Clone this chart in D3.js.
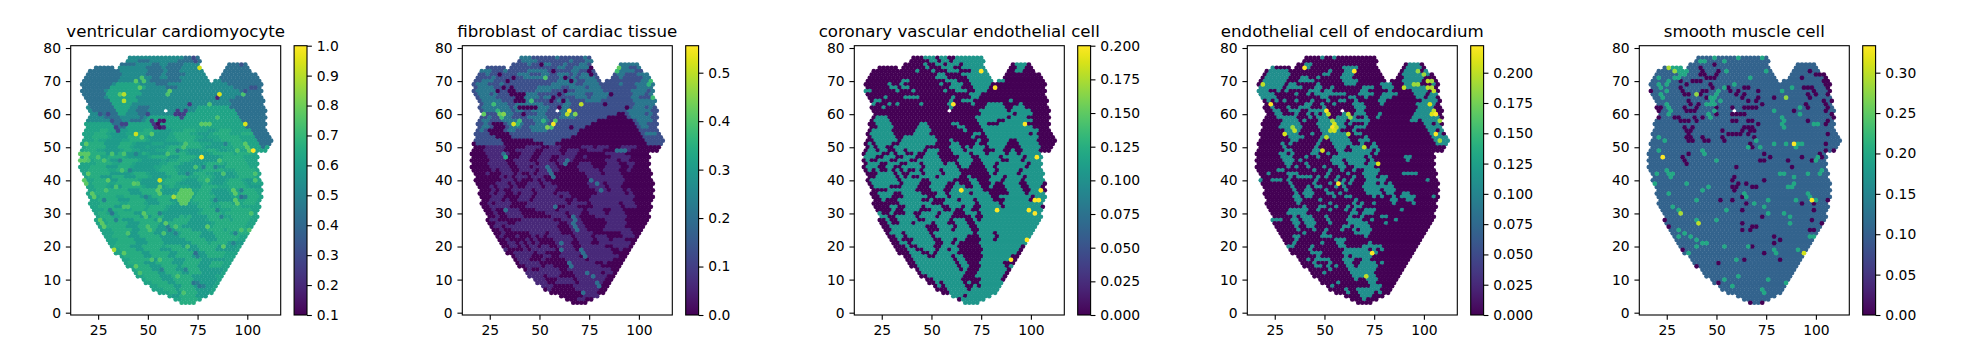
<!DOCTYPE html>
<html>
<head>
<meta charset="utf-8">
<script src="https://cdn.jsdelivr.net/npm/d3@7"></script>
<style>
html,body{margin:0;padding:0;background:#fff}
svg{display:block}
text{font-family:"DejaVu Sans",sans-serif;fill:#000}
</style>
</head>
<body>
<svg id="fig" width="1972" height="362"></svg>
<script>
// ---------- tick labels and titles ----------
const titles = ["ventricular cardiomyocyte","fibroblast of cardiac tissue","coronary vascular endothelial cell","endothelial cell of endocardium","smooth muscle cell"];
const xTicks = [25,50,75,100];
const yTicks = [0,10,20,30,40,50,60,70,80];
const cbarDomains = [[0.1,1.0],[0,0.5557],[0,0.2],[0,0.2223],[0,0.3334]];
const cbarTicks = [
  [0.1,0.2,0.3,0.4,0.5,0.6,0.7,0.8,0.9,1.0],
  [0,0.1,0.2,0.3,0.4,0.5],
  [0,0.025,0.05,0.075,0.1,0.125,0.15,0.175,0.2],
  [0,0.025,0.05,0.075,0.1,0.125,0.15,0.175,0.2],
  [0,0.05,0.1,0.15,0.2,0.25,0.3]
];
const cbarFormats = [".1f",".1f",".3f",".3f",".2f"];
const axisDomainX = [11.2,116.8];
const axisDomainY = [-0.7,80.7];

// ---------- the tissue: which spots exist, row y -> x spans ----------
const tissueRows = {77:"41-75",76:"40-76",75:"37-75 91-99",74:"24-32 36-76 90-100",73:"21-77 89-101",72:"20-78 88-104",71:"19-79 87-105",70:"18-80 84-106",69:"17-107",68:"18-106",67:"17-107",66:"18-106",65:"19-107",64:"20-108",63:"21-107",62:"20-108",61:"21-57 61-109",60:"22-108",59:"21-109",58:"20-108",57:"19-109",56:"20-108",55:"19-109",54:"18-110",53:"19-111",52:"18-112",51:"17-111",50:"18-110",49:"17-109",48:"16-104",47:"17-105",46:"16-104",45:"17-105",44:"16-104",43:"17-105",42:"18-106",41:"19-105",40:"18-106",39:"19-107",38:"20-106",37:"21-107",36:"20-106",35:"21-107",34:"22-106",33:"21-105",32:"22-106",31:"23-105",30:"24-104",29:"25-105",28:"24-104",27:"25-103",26:"26-102",25:"27-101",24:"28-100",23:"29-99",22:"30-98",21:"31-97",20:"32-96",19:"33-95",18:"34-94",17:"37-93",16:"38-92",15:"39-91",14:"40-90",13:"43-89",12:"44-88",11:"45-87",10:"48-86",9:"49-85",8:"52-84",7:"53-83",6:"56-82",5:"61-79",4:"64-76",3:"67-73"};

// ---------- ventricular cardiomyocyte ----------
const cardioBase = 0.625;
const cardioUpperRows = {77:"0-200",76:"0-200",75:"0-200",74:"0-200",73:"0-200",72:"0-200",71:"0-200",70:"0-200",69:"0-200",68:"0-200",67:"0-200",66:"0-200",65:"0-200",64:"0-200",63:"0-200",62:"0-74",61:"0-74",60:"0-64",59:"0-50",58:"0-48"};
const cardioLobeRows = {77:"68-75",76:"46-50 66-76",75:"37-44 52-56 60-68 91-99",74:"24-32 50-56 60-66 90-100",73:"21-36 50-58 60-66 89-101",72:"20-36 50-56 60-68 88-104",71:"19-36 52-56 60-66 87-105",70:"18-34 52-66 88-106",69:"17-32 54-60 90-107",68:"18-30 60-64 94-106",67:"17-28 96-107",66:"18-28 97-106",65:"19-28 94-107",64:"20-30 92-108",63:"21-31 93-107",62:"22-32 46-50 92-108",61:"23-33 44-50 94-109",60:"26-35 45-50 95-108",59:"28-36 46-48 96-109",58:"31-37 42-46 98-108",57:"33-40 99-109",56:"35-38 100-108",55:"36-36 102-109",54:"103-110",53:"104-111",52:"105-112",51:"107-111",50:"108-108"};
const cardioGreenRows = {69:"34-46",68:"32-48",67:"30-46",66:"30-46",65:"30-44",64:"32-44",63:"33-42",62:"34-41",61:"35-40",60:"36-38",58:"80-92",57:"76-88",56:"64-90"};
const cardioHighRows = {55:"26-30 48-52 68-74 86-92",54:"24-28 44-50 64-70 84-90 98-102",53:"23-29 41-47 65-73 87-95",52:"24-24 42-48 66-72 88-96",51:"21-27 37-41 69-75 93-99",50:"20-28 36-40 62-66 70-76 94-100",49:"18-24 38-42 60-66 80-84 92-92",48:"22-28 36-36 48-48 62-68 84-92 96-102",47:"21-25 31-37 53-59 67-73 89-97",46:"24-30 38-44 66-70 88-98",45:"25-31 37-41 61-65 81-87 91-99",44:"22-28 36-40 58-62 78-82 90-100",43:"21-29 35-39 57-63 79-87 95-103",42:"20-30 44-48 60-64 74-78 96-104",41:"21-25 33-37 45-49 63-69 77-81 97-103",40:"24-28 36-44 60-66 76-80 92-96",39:"23-29 35-43 59-63 79-79 91-97",38:"24-28 38-46 62-62 78-84 92-98",37:"25-31 33-39 47-53 77-81 99-103",36:"24-32 34-40 48-54 76-80 98-104",35:"27-33 39-45 53-61 75-83 101-105",34:"26-34 42-48 56-60 74-80 100-104",33:"27-35 41-47 57-61 77-81 87-91 99-103",32:"26-32 40-48 52-58 76-80 88-96",31:"29-37 43-47 51-57 79-85 93-101",30:"26-28 36-42 50-54 78-86 90-102",29:"27-31 37-45 53-57 67-67 71-71 81-87 93-101",28:"30-36 44-52 64-70 82-90 94-100",27:"31-39 47-55 61-69 85-99",26:"30-38 46-54 62-66 84-98",25:"33-41 47-53 65-71 81-87 91-99",24:"34-40 46-52 68-76 84-90 94-100",23:"33-39 47-55 67-75 85-95",22:"36-42 50-56 70-78 86-94",21:"35-43 51-57 73-79 83-89",20:"34-40 48-56 60-66 76-84",19:"37-43 49-55 63-69 77-83",18:"40-46 52-60 66-72 80-88",17:"39-47 53-59 65-71 81-87",16:"42-50 56-62 70-76",15:"41-47 55-61 69-75 83-87",14:"44-50 58-64 68-74 82-86",13:"45-51 57-63 69-75",12:"46-54 60-66 72-76",11:"49-55 63-71",10:"50-56 64-72",9:"53-59 65-71",8:"56-62 68-72",7:"59-63 67-73",6:"62-64 68-74",5:"67-73",4:"68-74",3:"67-73"};
const cardioLowRows = {55:"34-40 56-62 80-84",54:"32-38 54-60 76-80",53:"33-39 51-59 79-79",52:"30-36 52-58 76-82",51:"29-35 45-51 59-65 83-89",50:"30-34 44-48 52-58 80-86",49:"28-36 46-54 70-76 86-90",48:"30-34 40-46 52-58 72-80",47:"41-49 61-65 79-85",46:"32-36 48-56 60-60 74-84",45:"45-55 69-77",44:"30-34 44-52 66-74 84-88",43:"43-53 67-75",42:"32-40 52-58 66-72 84-92",41:"27-31 39-43 53-59 85-93",40:"30-34 48-56 70-74 84-88 100-104",39:"45-55 67-75 83-87 101-101",38:"32-36 50-58 72-76 102-106",37:"41-45 59-65 83-89",36:"42-46 58-62 84-90",35:"47-51 85-91",34:"36-40 50-54 62-64 84-92",33:"51-55 65-71",32:"34-38 62-74",31:"61-75",30:"32-32 44-48 58-74",29:"47-51 59-65 73-79",28:"38-42 54-62 72-78",27:"41-45 57-59 71-81",26:"40-44 56-60 68-80",25:"43-45 55-63 73-79",24:"42-44 54-64 78-82",23:"41-45 57-65 77-83",22:"44-48 58-68 80-84",21:"45-49 59-71 91-97",20:"42-46 68-74 86-94",19:"45-47 57-61 71-75 85-93",18:"48-50 62-64 74-78",17:"49-51 61-63 73-79",16:"52-54 64-68 78-88",15:"49-53 63-67 77-81",14:"52-56 66-66 76-80",13:"53-55 65-67 77-87",12:"56-58 68-70 78-86",11:"57-61 73-83",10:"58-62 74-84",9:"61-63 73-83",8:"64-66 74-82",7:"65-65 75-81",6:"66-66 76-80",5:"63-65 75-79"};
const cardioSpeckleHigh = [[49,29],[55,28],[50,25],[49,26],[37,32],[40,32],[42,39],[44,39],[29,37],[34,38],[36,43],[27,46],[20,46],[24,47],[32,48],[38,48],[59,48],[68,51],[74,44],[92,37],[97,25],[100,25],[79,40],[86,46],[88,42],[94,49],[69,20],[52,16],[55,16],[65,11],[68,6],[45,12],[57,24],[64,26],[40,24],[48,70],[46,71],[60,66],[81,63],[98,66],[84,59],[67,50],[103,40],[104,42],[101,30],[101,23]];
const cardioSpeckleLow = [[44,48],[36,46],[30,31],[59,26],[64,24],[74,17],[77,8],[75,9],[98,35],[96,37],[84,31],[87,29],[89,51],[77,44],[70,42],[55,30],[48,35],[40,43],[27,34],[33,28],[64,49],[84,44],[92,21],[93,24],[69,13],[57,13],[83,34]];
const cardioGreenSpots = [[67,37],[69,37],[71,37],[66,36],[68,36],[70,36],[72,36],[65,35],[67,35],[69,35],[71,35],[66,34],[68,34],[70,34],[67,33],[69,33],[55,38],[54,37],[56,36],[92,37],[93,36],[93,34],[94,33],[100,50],[101,49],[99,51],[77,57],[79,57],[81,57],[25,28],[26,27],[27,26],[17,48],[16,48],[18,47],[19,48],[17,46],[16,46],[18,51],[19,42],[18,40],[19,39],[21,36],[22,35],[36,66],[44,70],[46,68],[61,67],[52,54],[46,53],[43,39],[29,40],[47,30],[58,27],[38,18],[43,14],[79,26],[88,20]];
const cardioDeep = [[55,57,0.12],[56,56,0.14],[57,58,0.12],[58,58,0.15],[57,56,0.16],[54,56,0.2],[56,58,0.17],[58,56,0.2],[53,57,0.25],[64,60,0.25],[66,60,0.24],[65,61,0.26],[67,60,0.27],[68,61,0.28],[66,59,0.3],[52,58,0.25],[50,60,0.3],[34,56,0.28],[37,57,0.28],[39,57,0.28],[30,60,0.3],[32,58,0.32],[26,60,0.34],[35,55,0.3],[71,63,0.25],[85,65,0.2],[73,77,0.3],[74,76,0.32],[101,68,0.33],[103,68,0.33],[98,67,0.33],[97,75,0.33],[73,18,0.42],[73,9,0.45],[75,8,0.45],[97,35,0.42],[31,30,0.45],[60,25,0.47]];
const cardioBright = [[76,74,0.93],[86,66,0.95],[99,57,0.95],[103,49,1.0],[77,47,1.0],[44,54,0.93],[38,66,0.9],[38,64,0.9],[56,40,0.93],[63,35,0.88],[33,19,0.88]];

// ---------- fibroblast of cardiac tissue ----------
const fibroLowRows = {50:"23-33 43-51 55-61 71-77 80-85 91-99",49:"23-31 39-47 53-59 65-69 75-81 89-95",48:"24-34 42-46 52-60 64-68 84-92",47:"25-31 41-45 51-55 61-67 73-73 87-95",46:"26-32 38-44 50-54 60-66 84-88 92-94",45:"25-33 39-47 51-57 61-63 71-75 85-89 95-97",44:"26-34 40-44 48-58 70-76 84-90 96-96",43:"27-27 31-35 41-47 51-59 71-79 83-89 95-95",42:"24-24 32-36 40-40 46-46 50-56 74-80 84-90",41:"31-31 35-35 39-43 47-51 75-83 85-91",40:"32-36 40-40 48-48 52-52 76-82 84-92",39:"29-33 37-37 45-49 53-53 55-55 75-81 85-91",38:"26-26 30-34 38-38 44-50 54-58 76-82 86-90",37:"27-27 31-31 37-45 49-57 79-83 87-91 95-95",36:"26-26 30-32 38-38 42-46 50-56 60-64 80-92 96-96",35:"27-31 41-45 49-59 63-65 77-93 95-97",34:"26-30 34-34 40-44 48-62 68-68 76-92 94-96",33:"25-25 29-35 45-63 67-73 77-89 93-97",32:"26-34 44-58 64-68 78-90 94-98",31:"27-27 33-39 49-57 61-71 75-81 87-91",30:"28-28 34-40 54-62 66-70 76-82 86-92",29:"29-29 35-41 57-63 67-69 79-93",28:"26-28 42-56 62-70 84-92",27:"29-33 39-59 65-71 85-93",26:"28-30 34-58 66-72 84-92",25:"31-31 37-59 67-73 83-95",24:"32-32 46-52 56-60 68-76 92-96",23:"31-31 39-39 47-47 51-51 55-65 69-75 79-81 83-83 93-97",22:"34-34 44-44 48-48 58-66 70-76 80-84 88-92",21:"35-37 41-41 45-45 49-49 59-65 71-75 81-85 87-95",20:"36-38 42-42 46-48 52-54 60-66 72-82 88-94",19:"33-33 43-43 47-57 61-67 73-85 91-91",18:"38-46 50-52 62-70 74-86",17:"39-45 53-55 61-69 75-89",16:"40-44 52-52 64-72 76-86",15:"41-47 49-49 65-77 83-83",14:"44-50 54-54 56-56 66-80",13:"45-45 51-55 57-59 65-85",12:"44-50 52-60 68-70 72-80 84-86",11:"45-51 55-59 69-83",10:"48-52 60-66 70-82",9:"49-53 59-67 71-81",8:"50-56 68-80",7:"55-55 69-79",6:"72-78",5:"73-79",4:"70-72"};
const fibroMidRows = {77:"0-200",76:"0-200",75:"0-200",74:"0-200",73:"0-200",72:"0-200",71:"0-200",70:"0-200",69:"0-200",68:"0-200",67:"0-200",66:"0-200",65:"0-200",64:"0-200",63:"0-200",62:"0-200",61:"0-200",60:"20-88 94-108",59:"21-83 95-109",58:"20-78 97-108",57:"19-26 32-76 98-109",56:"20-26 33-72 100-108",55:"19-24 33-70 101-109",54:"18-24 35-68 102-110",53:"19-27 36-66 103-111",52:"18-30 47-60 65-65 104-112",51:"19-31 52-58 104-111"};
const fibroTealRows = {77:"41-45 59-59 73-73",76:"42-48 66-66 74-76",75:"45-45 52-56 63-63 70-74 91-99",74:"27-27 29-29 43-43 47-47 60-62 68-74 92-94 100-100",73:"21-25 33-33 44-54 60-60 66-70 90-98 102-102",72:"24-24 40-44 52-54 60-64 68-68 72-74 90-92 100-104",71:"24-24 27-27 43-53 61-61 67-67 71-77 91-91 103-105",70:"21-27 59-69 74-78 97-97 101-105",69:"19-23 31-31 57-67 73-79 91-91 99-107",68:"20-26 50-60 66-72 76-80 100-106",67:"19-27 49-55 69-81 97-103 107-107",66:"20-24 27-29 42-48 64-72 78-84 98-102 106-106",65:"21-27 43-49 53-55 69-73 77-83 96-100 106-106",64:"22-30 40-46 60-64 74-80 98-108",63:"23-33 39-51 63-65 99-107",62:"22-34 38-44 47-55 61-65 98-102 106-106",61:"23-35 39-41 47-53 60-64 95-103 105-105",60:"20-22 29-37 49-53 61-69 96-102 106-106",59:"25-25 31-35 45-53 60-67 97-105",58:"21-25 32-38 47-55 100-106",57:"22-24 34-42 48-54 100-104",56:"21-25 35-41 46-56 102-104",55:"21-21 34-38 47-53",54:"37-37 51-51 104-108"};
const fibroLowTeal = [[66,29],[67,28],[66,27],[68,26],[69,25],[58,32],[60,21],[61,19],[71,19],[72,18],[73,17],[64,15],[66,14],[74,12],[76,11],[78,9],[79,8],[72,6],[32,48],[53,44],[54,43],[55,42],[56,41],[62,45],[64,46],[76,40],[78,39],[80,37],[88,49],[90,49],[92,49],[32,31]];
const fibroDark = [[36,66],[38,66],[40,66],[42,66],[39,65],[41,65],[38,64],[40,64],[42,64],[35,67],[37,67],[33,70],[32,68],[35,68],[40,62],[42,62],[44,62],[46,62],[48,62],[41,60],[29,67],[57,65],[56,64],[63,67],[59,66],[76,74],[75,73],[76,72],[86,66],[94,62],[62,64],[60,62],[65,56],[63,71],[57,73],[50,75],[36,71],[30,72],[82,63],[66,70]];
const fibroGreen = [[27,63,0.38],[28,61,0.36],[30,60,0.42],[31,59,0.38],[46,64,0.38],[53,71,0.4],[90,74,0.42],[89,73,0.38],[105,69,0.36],[106,70,0.38],[107,68,0.36],[106,65,0.42],[107,65,0.38],[22,60,0.42],[38,57,0.36],[40,58,0.38],[52,58,0.36],[58,58,0.4],[55,56,0.4],[56,56,0.38],[33,47,0.33]];
const fibroBright = [[37,57,0.52],[57,57,0.55],[65,61,0.55],[64,60,0.5],[71,63,0.5],[67,60,0.45],[31,60,0.45],[54,56,0.45]];

// ---------- coronary vascular endothelial cell ----------
const coronaryTealRows = {77:"47-51 55-57 63-75",76:"50-52 56-58 62-76",75:"47-47 53-55 59-63 67-75 93-97",74:"48-48 56-60 66-76 94-96",73:"43-43 51-51 59-63 71-77 93-95",72:"54-56 66-78",71:"53-57 69-79",70:"36-38 58-62 70-80 84-86",69:"29-29 35-35 55-55 61-65 71-79",68:"29-33 36-38 60-64 72-78",67:"17-19 33-33 41-41 57-57 63-67 73-77",66:"55-55 63-63 69-75",65:"27-27 37-43 61-61 71-73",64:"22-24 27-27 41-41 51-51 59-61 66-70 90-90",63:"21-21 29-29 33-33 45-45 59-59 71-71 79-85 95-95",62:"26-26 60-60 78-86 92-96",61:"22-22 26-26 75-87 91-99",60:"76-90 94-100",59:"23-27 73-87 91-97",58:"22-28 73-83 87-101",57:"23-29 45-47 61-63 75-77 85-95",56:"24-30 44-48 64-66 76-100",55:"21-29 43-49 67-67 77-103",54:"20-30 42-48 72-74 78-98 102-102",53:"21-31 37-51 71-71 79-103",52:"22-32 36-52 60-60 74-74 80-88 94-102",51:"19-19 23-29 35-51 61-63 73-73 79-87 95-103",50:"20-20 24-26 32-46 60-64 68-68 72-76 80-86 96-104",49:"19-21 25-27 33-35 39-45 49-53 61-65 69-75 83-85 91-91 97-103",48:"18-24 30-30 34-36 42-42 48-52 62-68 72-76 80-86 90-92 96-104",47:"17-21 27-31 37-41 47-53 65-69 75-83 87-95 99-105",46:"18-18 24-28 34-38 44-54 64-70 76-84 90-94 98-104",45:"19-23 29-33 39-43 47-55 59-61 65-69 77-81 85-97 101-105",44:"18-22 28-30 36-44 48-56 58-62 66-68 78-80 84-96 100-104",43:"19-19 23-23 29-29 33-33 37-37 43-43 47-53 57-63 79-81 85-93 97-105",42:"24-30 34-34 40-44 48-54 58-64 80-80 84-92 96-106",41:"23-31 35-35 39-39 45-51 55-63 69-69 81-85 89-95 99-105",40:"20-32 36-44 50-60 70-72 80-84 88-94 98-106",39:"21-33 37-43 51-57 63-63 71-73 81-81 87-93 99-105",38:"22-28 36-42 50-56 62-66 72-74 80-80 88-94 100-104",37:"29-35 37-41 51-55 61-63 67-69 71-75 89-95 101-103",36:"24-30 36-44 54-56 60-68 72-78 90-96 100-106",35:"25-29 37-47 53-57 61-71 73-79 85-99 103-107",34:"26-26 34-44 50-50 58-62 66-70 74-80 88-98 106-106",33:"35-41 43-49 57-63 65-71 75-83 87-105",32:"30-32 38-44 48-54 60-64 68-70 76-84 88-104",31:"31-31 37-43 51-55 61-61 67-69 75-81 85-97 101-105",30:"24-24 30-30 38-40 46-52 56-60 68-72 76-104",29:"25-27 33-41 45-51 55-59 71-71 77-105",28:"28-28 34-40 42-42 48-52 54-58 62-66 72-72 76-104",27:"29-29 35-39 43-49 53-57 63-67 73-75 77-103",26:"30-36 38-46 54-60 64-68 74-76 78-82 84-102",25:"31-35 37-47 55-59 63-69 75-85 87-101",24:"30-34 38-48 52-60 62-70 74-80 84-100",23:"33-35 39-49 53-59 61-67 75-81 85-99",22:"34-34 42-50 56-60 64-66 76-80 84-96",21:"35-35 37-37 41-51 57-59 63-63 75-97",20:"38-38 44-50 56-60 62-62 76-94",19:"39-41 47-51 55-57 61-63 77-93",18:"40-44 50-50 54-60 62-62 76-92",17:"41-47 53-59 63-65 77-89",16:"42-48 50-50 52-60 64-66 76-78 80-88",15:"43-49 51-61 65-67 75-85",14:"44-50 52-62 66-66 68-68 76-86 90-90",13:"45-53 55-63 67-67 75-87",12:"46-46 48-50 52-60 62-66 74-86",11:"49-51 53-63 65-65 73-85",10:"52-52 54-64 76-84",9:"53-53 57-65 69-69 75-85",8:"54-54 58-66 72-72 76-84",7:"59-67 71-83",6:"60-70 72-82",5:"61-65 69-79",4:"66-76",3:"67-73"};
const coronaryBright = [[75,73,0.2],[82,68,0.2],[61,63,0.2],[97,57,0.2],[103,47,0.2],[65,37,0.2],[105,37,0.2],[102,34,0.2],[104,34,0.2],[83,31,0.2],[99,31,0.2],[102,30,0.2],[98,22,0.2],[90,16,0.2]];

// ---------- endothelial cell of endocardium ----------
const endoTealRows = {77:"49-49 55-55",76:"47-47 51-51 57-57",75:"41-43 93-97",74:"24-24 42-42 60-66 92-98",73:"23-31 53-53 61-65 91-97 101-101",72:"22-32 50-50 52-52 60-64 90-102",71:"21-31 39-41 47-47 59-63 91-99",70:"20-30 38-44 60-66 90-98 102-104",69:"19-29 33-35 47-47 61-65 79-83 91-97 105-105",68:"18-28 32-38 46-46 48-48 54-54 70-74 80-84 90-100 104-104",67:"17-21 27-27 31-31 43-47 51-53 69-71 83-83 95-101 105-105",66:"18-24 36-36 42-42 46-54 56-60 68-68 70-74 80-86 96-100 104-106",65:"19-25 28-28 30-30 38-38 48-52 58-58 62-66 70-72 79-83 97-99 103-103 105-105",64:"22-22 26-26 30-30 36-36 44-44 52-52 58-60 66-66 78-80 100-106",63:"23-23 41-41 43-43 49-49 55-55 65-69 79-79 97-101 105-105",62:"24-24 32-32 38-42 50-50 66-70 98-104",61:"25-27 33-37 43-45 47-47 49-49 67-69 97-103 105-105",60:"26-28 36-36 42-42 46-46 50-50 60-60 66-70 78-78 96-102 106-106",59:"27-35 43-43 47-47 49-51 57-61 65-65 71-71 77-77 95-97 99-107",58:"30-36 40-40 48-60 64-72 94-96 100-106",57:"29-37 47-59 63-63 71-71 101-103 107-107",56:"28-38 48-60 66-70 102-108",55:"31-37 49-57 65-65 103-105 109-109",54:"32-36 44-44 50-60 66-68 104-108",53:"33-39 49-61 71-71 105-111",52:"34-36 48-48 54-62 68-70 72-72 106-112",51:"29-29 33-33 47-47 55-63 69-69 75-75 107-111",50:"30-30 46-46 56-60 64-70 74-76",49:"31-31 33-33 45-45 47-47 57-59 65-73 77-77",48:"28-30 34-34 44-44 46-46 52-52 58-62 64-72 76-76",47:"29-31 33-33 41-41 47-47 55-65 67-69 73-73 91-93",46:"30-34 38-38 54-58 62-70 74-74 92-92",45:"31-33 41-41 55-59 63-69 73-75",44:"32-32 36-36 42-42 50-50 58-60 66-68 70-74",43:"27-29 45-45 53-53 59-59 65-65 71-77",42:"22-22 32-36 52-52 62-62 70-76 90-96",41:"33-33 37-43 47-47 51-51 57-57 65-65 71-75 79-81",40:"18-18 24-28 32-32 46-46 56-56 60-60 64-64 72-76 78-78 80-80 102-102",39:"33-33 45-45 53-53 59-59 63-63 71-75 79-79 83-83",38:"34-34 42-42 46-46 48-48 56-56 60-60 70-76 78-84",37:"35-35 41-43 51-51 61-61 71-77 81-83 85-85",36:"36-36 40-44 52-54 58-58 72-78 82-84 90-92",35:"35-37 41-41 43-43 55-55 61-61 63-63 75-75 79-79 85-85 89-95 105-105",34:"36-38 48-48 66-66 84-86 92-94",33:"37-37 53-53 65-65 69-69 75-75 85-85 95-95",32:"40-40 48-50 56-56 62-62 66-68",31:"33-41 47-47 53-53 61-61 65-65 71-75 89-89",30:"32-40 64-66 70-74",29:"35-35 39-43 51-51 63-63 69-69 79-79 81-81",28:"24-28 34-36 40-44 52-52 62-68 74-74 86-86",27:"35-37 41-45 53-53 63-71 81-81",26:"36-36 42-44 60-62 66-72",25:"37-37 45-45 51-51 59-59 65-65 69-73",24:"40-40 50-50 66-72",23:"35-37 49-53 71-71",22:"36-36 56-60",21:"27-27 35-35 49-49 57-59 73-73",20:"28-28 32-34 44-44 58-58 60-60 70-78",19:"43-43 61-63 65-71 75-75 79-79",18:"44-48 60-76",17:"47-47 61-61 65-73",16:"42-42 46-50 52-52 60-64 70-72",15:"45-45 53-53 61-63 69-75 79-79",14:"46-48 52-52 56-56 62-64 68-76",13:"53-53 63-75",12:"50-50 64-74",11:"65-69 73-75",10:"66-66 72-76",9:"57-57 73-75",8:"54-54 74-78",7:"61-61 67-73 75-77",6:"62-62 68-74 78-78",5:"69-73",4:"70-70"};
const endoBright = [[40,74,0.222],[65,73,0.222],[19,69,0.2],[23,63,0.222],[97,73,0.185],[100,72,0.19],[102,70,0.2],[104,70,0.19],[102,68,0.2],[104,68,0.195],[105,67,0.2],[90,68,0.2],[95,69,0.19],[97,69,0.19],[103,63,0.21],[104,60,0.21],[105,61,0.2],[106,60,0.222],[108,58,0.19],[106,54,0.222],[108,52,0.19],[34,56,0.19],[35,55,0.2],[30,54,0.21],[51,61,0.222],[52,60,0.2],[62,60,0.2],[63,59,0.19],[54,58,0.19],[55,57,0.21],[54,56,0.222],[53,55,0.2],[55,55,0.21],[56,56,0.2],[51,53,0.2],[62,54,0.2],[49,49,0.21],[70,50,0.2],[77,45,0.21],[57,39,0.222],[74,18,0.222],[71,11,0.2]];

// ---------- smooth muscle cell ----------
const smoothZero = [[41,74],[43,73],[42,72],[44,72],[45,71],[48,71],[51,73],[49,75],[50,72],[46,71],[31,70],[32,68],[33,67],[35,69],[37,70],[39,70],[41,70],[33,66],[36,66],[36,64],[37,63],[34,62],[35,61],[37,61],[39,61],[40,62],[41,63],[42,66],[43,67],[45,67],[44,65],[46,69],[48,68],[50,62],[49,61],[50,60],[56,68],[57,67],[59,66],[61,67],[63,68],[65,68],[64,66],[62,65],[65,64],[57,62],[58,60],[60,60],[57,58],[59,58],[63,62],[65,62],[62,60],[64,60],[68,62],[70,62],[72,63],[71,65],[71,67],[70,64],[66,58],[68,58],[70,57],[64,56],[66,56],[68,56],[69,55],[57,54],[59,54],[61,54],[63,55],[65,54],[67,55],[68,53],[33,56],[35,55],[36,54],[37,53],[38,52],[36,52],[35,53],[37,55],[38,56],[32,58],[34,58],[36,58],[38,59],[40,58],[42,59],[43,53],[44,52],[46,52],[52,53],[54,52],[53,55],[56,54],[97,73],[93,71],[100,72],[102,72],[104,72],[105,71],[106,70],[103,70],[105,69],[107,69],[106,68],[107,67],[108,65],[107,64],[106,62],[104,63],[100,66],[99,67],[98,68],[96,68],[94,68],[97,65],[96,66],[103,64],[105,66],[109,59],[107,60],[105,61],[106,58],[104,57],[95,62],[88,61],[96,58],[94,63],[84,65],[79,65],[70,65],[17,67],[20,62],[22,62],[21,61],[21,59],[18,56],[29,59],[31,59],[73,48],[74,46],[72,46],[77,47],[66,51],[68,50],[60,44],[59,41],[60,39],[57,40],[57,38],[58,37],[60,38],[65,39],[68,38],[70,38],[74,40],[63,35],[65,33],[58,34],[52,34],[63,31],[63,27],[63,25],[67,25],[68,26],[70,26],[73,29],[79,23],[79,21],[82,22],[82,16],[74,18],[68,20],[64,16],[51,15],[51,9],[40,14],[33,19],[24,28],[26,26],[33,47],[34,46],[35,45],[36,48],[67,3],[73,3],[88,44],[85,46],[93,47],[98,46],[103,47],[102,48],[105,49],[109,49],[104,51],[106,54],[93,33],[98,33],[99,31],[98,28],[97,25],[99,25],[101,23],[103,27],[106,34]];
const smoothGreen = [[28,74],[30,74],[32,74],[31,73],[33,73],[35,73],[32,72],[34,72],[30,71],[28,71],[21,71],[20,69],[21,68],[22,66],[24,67],[23,65],[25,70],[24,69],[25,63],[26,62],[26,60],[27,61],[46,65],[47,64],[48,65],[49,66],[50,67],[47,63],[49,63],[51,64],[45,63],[48,61],[46,60],[47,59],[41,76],[44,76],[48,77],[54,76],[61,77],[73,77],[75,73],[67,71],[55,73],[59,69],[54,68],[83,67],[88,68],[79,61],[92,62],[82,59],[82,57],[84,56],[83,58],[72,50],[66,50],[70,52],[79,51],[85,51],[91,51],[93,51],[90,50],[21,53],[23,52],[21,49],[43,49],[44,48],[50,46],[20,42],[24,43],[26,41],[25,42],[27,42],[19,39],[35,39],[26,36],[43,37],[46,38],[39,34],[64,36],[65,35],[75,34],[74,32],[69,33],[55,31],[76,30],[84,30],[86,29],[86,27],[28,32],[30,31],[39,28],[49,28],[31,25],[33,24],[31,23],[37,23],[40,22],[43,21],[45,21],[40,20],[36,18],[54,20],[66,20],[79,19],[80,18],[60,16],[54,10],[61,11],[58,8],[84,9],[76,10],[73,7],[74,6],[81,42],[84,42],[89,41],[88,39],[87,38],[85,38],[95,42],[90,34],[95,36],[97,35],[100,34],[93,18],[91,19],[96,23],[98,23],[101,42],[103,43],[100,47],[99,46],[101,57],[98,57],[92,60]];
const smoothBright = [[26,74,0.29],[29,73,0.28],[85,65,0.28],[40,66,0.28],[89,51,0.333],[23,47,0.333],[32,30,0.29],[41,27,0.3],[98,34,0.333],[94,18,0.31]];

// ---------- panels: base value and layers, later layers on top ----------
const panels = [
  {base:cardioBase, layers:[{rows:cardioUpperRows,v:0.53},{rows:cardioLobeRows,v:0.43},{rows:cardioGreenRows,v:0.63},{rows:cardioHighRows,v:0.66},{rows:cardioLowRows,v:0.59},{spots:cardioSpeckleHigh,v:0.74},{spots:cardioSpeckleLow,v:0.5},{spots:cardioGreenSpots,v:0.77},{points:cardioDeep},{points:cardioBright}]},
  {base:0, layers:[{rows:fibroLowRows,v:0.065},{rows:fibroMidRows,v:0.135},{rows:fibroTealRows,v:0.22},{spots:fibroLowTeal,v:0.2},{spots:fibroDark,v:0},{points:fibroGreen},{points:fibroBright}]},
  {base:0, layers:[{rows:coronaryTealRows,v:0.105},{points:coronaryBright}]},
  {base:0, layers:[{rows:endoTealRows,v:0.11},{points:endoBright}]},
  {base:0.105, layers:[{spots:smoothZero,v:0},{spots:smoothGreen,v:0.2},{points:smoothBright}]}
];

// ---------- layout ----------
const axesLeft = [70.7,462.3,854.3,1247.3,1639.3];
const axesWidth = 210, axesTop = 45.7, axesBottom = 315;
const cbarGap = 13.4, cbarWidth = 12.9;
const tickLen = 4.86, tickPad = 4.86, lineW = 1.1;

function parseSpans(s){
  return s.split(" ").filter(Boolean).map(t=>{const a=t.split("-").map(Number);return [a[0],a[a.length-1]];});
}
const tissue = [];
Object.keys(tissueRows).map(Number).sort((a,b)=>b-a).forEach(y=>{
  parseSpans(tissueRows[y]).forEach(([a,b])=>{for(let x=a;x<=b;x+=2)tissue.push({x,y});});
});
const key=(x,y)=>x+","+y;

function valuesFor(panel){
  const vals=new Map(tissue.map(d=>[key(d.x,d.y),{x:d.x,y:d.y,v:panel.base,rank:0}]));
  const set=(x,y,v,rank)=>{
    if((x+y)%2!==0)x+=1;
    const d=vals.get(key(x,y));
    if(d){d.v=v;d.rank=rank;}
  };
  panel.layers.forEach((l,i)=>{
    if(l.rows){
      Object.keys(l.rows).map(Number).forEach(y=>{
        parseSpans(l.rows[y]).forEach(([a,b])=>{
          tissue.filter(d=>d.y===y&&d.x>=a&&d.x<=b).forEach(d=>set(d.x,d.y,l.v,0));
        });
      });
    }
    if(l.spots)l.spots.forEach(([x,y])=>set(x,y,l.v,i+1));
    if(l.points)l.points.forEach(([x,y,v])=>set(x,y,v,i+1));
  });
  return Array.from(vals.values()).sort((a,b)=>a.rank-b.rank);
}

const svg=d3.select("#fig");
const defs=svg.append("defs");
panels.forEach((panel,i)=>{
  const L=axesLeft[i];
  const x=d3.scaleLinear().domain(axisDomainX).range([L,L+axesWidth]);
  const y=d3.scaleLinear().domain(axisDomainY).range([axesBottom,axesTop]);
  const dom=cbarDomains[i];
  const col=d3.scaleSequential(d3.interpolateViridis).domain(dom).clamp(true);
  const g=svg.append("g");

  g.append("g").selectAll("circle").data(valuesFor(panel)).join("circle")
    .attr("cx",d=>x(d.x)).attr("cy",d=>y(d.y)).attr("r",2.35).attr("fill",d=>col(d.v));

  g.append("rect").attr("x",L).attr("y",axesTop).attr("width",axesWidth).attr("height",axesBottom-axesTop)
    .attr("fill","none").attr("stroke","#000").attr("stroke-width",lineW);

  const ax=g.append("g").attr("transform",`translate(0,${axesBottom})`)
    .call(d3.axisBottom(x).tickValues(xTicks).tickSize(tickLen).tickPadding(tickPad).tickFormat(d3.format("d")));
  const ay=g.append("g").attr("transform",`translate(${L},0)`)
    .call(d3.axisLeft(y).tickValues(yTicks).tickSize(tickLen).tickPadding(tickPad).tickFormat(d3.format("d")));

  g.append("text").attr("x",L+axesWidth/2).attr("y",axesTop-8.3).attr("text-anchor","middle")
    .style("font-size","16.67px").text(titles[i]);

  // colorbar
  const cx=L+axesWidth+cbarGap;
  const cy=d3.scaleLinear().domain(dom).range([axesBottom,axesTop]);
  const gid="cbar"+i;
  const grad=defs.append("linearGradient").attr("id",gid).attr("x1",0).attr("x2",0).attr("y1",1).attr("y2",0);
  d3.range(0,1.0001,1/32).forEach(t=>grad.append("stop").attr("offset",t).attr("stop-color",d3.interpolateViridis(t)));
  g.append("rect").attr("x",cx).attr("y",axesTop).attr("width",cbarWidth).attr("height",axesBottom-axesTop)
    .attr("fill",`url(#${gid})`).attr("stroke","#000").attr("stroke-width",lineW);
  const ac=g.append("g").attr("transform",`translate(${cx+cbarWidth},0)`)
    .call(d3.axisRight(cy).tickValues(cbarTicks[i]).tickSize(tickLen).tickPadding(tickPad).tickFormat(d3.format(cbarFormats[i])));

  [ax,ay,ac].forEach(a=>{
    a.select(".domain").remove();
    a.selectAll("line").attr("stroke","#000").attr("stroke-width",lineW);
    a.selectAll("text").style("font-size","13.89px").style("font-family",'"DejaVu Sans",sans-serif').attr("fill","#000");
  });
});
</script>
</body>
</html>
